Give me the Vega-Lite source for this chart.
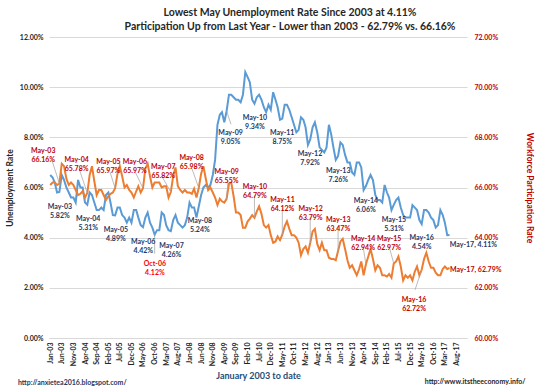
{
 "$schema": "https://vega.github.io/schema/vega-lite/v6.json",
 "width": 418,
 "height": 301,
 "autosize": {"type": "none"},
 "padding": {"left": 49, "top": 37, "right": 71, "bottom": 53},
 "background": "white",
 "title": {
  "text": ["Lowest May Unemployment Rate Since 2003 at 4.11%", "Participation Up from Last Year - Lower than 2003 - 62.79% vs. 66.16%"],
  "anchor": "middle", "frame": "group", "dx": 32, "offset": 1,
  "font": "Lato", "fontSize": 10.5, "fontWeight": "bold", "color": "#262626", "lineHeight": 14
 },
 "datasets": {
  "series": [
   {"d":"2003-01","u":6.5,"p":66.1},{"d":"2003-02","u":6.4,"p":66.2},{"d":"2003-03","u":6.2,"p":66.2},{"d":"2003-04","u":5.8,"p":66.1},{"d":"2003-05","u":5.82,"p":66.16},{"d":"2003-06","u":6.5,"p":66.95},{"d":"2003-07","u":6.3,"p":66.85},{"d":"2003-08","u":6.0,"p":66.35},{"d":"2003-09","u":5.8,"p":66.1},{"d":"2003-10","u":5.6,"p":66.2},{"d":"2003-11","u":5.6,"p":66.1},{"d":"2003-12","u":5.4,"p":65.9},
   {"d":"2004-01","u":6.3,"p":65.7},{"d":"2004-02","u":6.0,"p":65.75},{"d":"2004-03","u":6.0,"p":65.85},{"d":"2004-04","u":5.4,"p":65.6},{"d":"2004-05","u":5.31,"p":65.78},{"d":"2004-06","u":5.8,"p":66.5},{"d":"2004-07","u":5.7,"p":66.85},{"d":"2004-08","u":5.4,"p":66.25},{"d":"2004-09","u":5.1,"p":65.7},{"d":"2004-10","u":5.1,"p":65.9},{"d":"2004-11","u":5.2,"p":65.9},{"d":"2004-12","u":5.1,"p":65.7},
   {"d":"2005-01","u":5.7,"p":65.5},{"d":"2005-02","u":5.8,"p":65.65},{"d":"2005-03","u":5.4,"p":65.75},{"d":"2005-04","u":4.9,"p":65.8},{"d":"2005-05","u":4.89,"p":65.97},{"d":"2005-06","u":5.2,"p":66.55},{"d":"2005-07","u":5.2,"p":66.85},{"d":"2005-08","u":4.9,"p":66.45},{"d":"2005-09","u":4.8,"p":66.0},{"d":"2005-10","u":4.6,"p":66.1},{"d":"2005-11","u":4.8,"p":65.9},{"d":"2005-12","u":4.6,"p":65.8},
   {"d":"2006-01","u":5.1,"p":65.6},{"d":"2006-02","u":5.1,"p":65.85},{"d":"2006-03","u":4.8,"p":66.05},{"d":"2006-04","u":4.5,"p":65.8},{"d":"2006-05","u":4.42,"p":65.97},{"d":"2006-06","u":4.8,"p":66.75},{"d":"2006-07","u":5.0,"p":66.95},{"d":"2006-08","u":4.6,"p":66.45},{"d":"2006-09","u":4.4,"p":66.0},{"d":"2006-10","u":4.12,"p":66.2},{"d":"2006-11","u":4.3,"p":66.2},{"d":"2006-12","u":4.3,"p":66.2},
   {"d":"2007-01","u":5.0,"p":66.0},{"d":"2007-02","u":4.9,"p":66.05},{"d":"2007-03","u":4.5,"p":66.05},{"d":"2007-04","u":4.3,"p":65.6},{"d":"2007-05","u":4.26,"p":65.82},{"d":"2007-06","u":4.7,"p":66.45},{"d":"2007-07","u":4.9,"p":66.8},{"d":"2007-08","u":4.6,"p":66.05},{"d":"2007-09","u":4.5,"p":65.9},{"d":"2007-10","u":4.4,"p":65.8},{"d":"2007-11","u":4.5,"p":65.9},{"d":"2007-12","u":4.8,"p":65.8},
   {"d":"2008-01","u":5.4,"p":65.8},{"d":"2008-02","u":5.2,"p":65.75},{"d":"2008-03","u":5.2,"p":65.95},{"d":"2008-04","u":4.8,"p":65.6},{"d":"2008-05","u":5.24,"p":65.98},{"d":"2008-06","u":5.7,"p":66.55},{"d":"2008-07","u":6.0,"p":66.85},{"d":"2008-08","u":6.1,"p":66.35},{"d":"2008-09","u":6.0,"p":65.9},{"d":"2008-10","u":6.1,"p":66.0},{"d":"2008-11","u":6.5,"p":65.8},{"d":"2008-12","u":7.1,"p":65.6},
   {"d":"2009-01","u":8.5,"p":65.3},{"d":"2009-02","u":8.9,"p":65.55},{"d":"2009-03","u":9.0,"p":65.45},{"d":"2009-04","u":8.6,"p":65.4},{"d":"2009-05","u":9.05,"p":65.55},{"d":"2009-06","u":9.7,"p":66.15},{"d":"2009-07","u":9.7,"p":66.2},{"d":"2009-08","u":9.6,"p":65.65},{"d":"2009-09","u":9.5,"p":65.0},{"d":"2009-10","u":9.5,"p":65.0},{"d":"2009-11","u":9.4,"p":64.9},{"d":"2009-12","u":9.7,"p":64.4},
   {"d":"2010-01","u":10.6,"p":64.4},{"d":"2010-02","u":10.4,"p":64.65},{"d":"2010-03","u":10.2,"p":64.75},{"d":"2010-04","u":9.5,"p":64.9},{"d":"2010-05","u":9.34,"p":64.79},{"d":"2010-06","u":9.6,"p":65.05},{"d":"2010-07","u":9.7,"p":65.25},{"d":"2010-08","u":9.5,"p":64.95},{"d":"2010-09","u":9.2,"p":64.5},{"d":"2010-10","u":9.0,"p":64.4},{"d":"2010-11","u":9.3,"p":64.5},{"d":"2010-12","u":9.1,"p":64.1},
   {"d":"2011-01","u":9.8,"p":63.8},{"d":"2011-02","u":9.5,"p":63.85},{"d":"2011-03","u":9.2,"p":64.05},{"d":"2011-04","u":8.7,"p":63.9},{"d":"2011-05","u":8.75,"p":64.12},{"d":"2011-06","u":9.3,"p":64.45},{"d":"2011-07","u":9.3,"p":64.65},{"d":"2011-08","u":9.1,"p":64.35},{"d":"2011-09","u":8.8,"p":64.1},{"d":"2011-10","u":8.5,"p":64.1},{"d":"2011-11","u":8.2,"p":64.0},{"d":"2011-12","u":8.3,"p":63.8},
   {"d":"2012-01","u":8.8,"p":63.3},{"d":"2012-02","u":8.7,"p":63.55},{"d":"2012-03","u":8.4,"p":63.65},{"d":"2012-04","u":7.7,"p":63.4},{"d":"2012-05","u":7.92,"p":63.79},{"d":"2012-06","u":8.4,"p":64.25},{"d":"2012-07","u":8.6,"p":64.35},{"d":"2012-08","u":8.2,"p":63.75},{"d":"2012-09","u":7.6,"p":63.5},{"d":"2012-10","u":7.5,"p":63.8},{"d":"2012-11","u":7.4,"p":63.5},{"d":"2012-12","u":7.6,"p":63.5},
   {"d":"2013-01","u":8.5,"p":63.2},{"d":"2013-02","u":8.1,"p":63.15},{"d":"2013-03","u":7.6,"p":63.15},{"d":"2013-04","u":7.1,"p":63.1},{"d":"2013-05","u":7.26,"p":63.47},{"d":"2013-06","u":7.8,"p":63.85},{"d":"2013-07","u":7.7,"p":63.95},{"d":"2013-08","u":7.3,"p":63.55},{"d":"2013-09","u":7.0,"p":63.1},{"d":"2013-10","u":7.0,"p":62.8},{"d":"2013-11","u":6.6,"p":62.9},{"d":"2013-12","u":6.5,"p":62.7},
   {"d":"2014-01","u":7.0,"p":62.5},{"d":"2014-02","u":7.0,"p":62.75},{"d":"2014-03","u":6.8,"p":63.05},{"d":"2014-04","u":5.9,"p":62.5},{"d":"2014-05","u":6.06,"p":62.94},{"d":"2014-06","u":6.3,"p":63.25},{"d":"2014-07","u":6.5,"p":63.55},{"d":"2014-08","u":6.3,"p":63.15},{"d":"2014-09","u":5.7,"p":62.7},{"d":"2014-10","u":5.5,"p":62.9},{"d":"2014-11","u":5.5,"p":62.8},{"d":"2014-12","u":5.4,"p":62.5},
   {"d":"2015-01","u":6.1,"p":62.5},{"d":"2015-02","u":5.8,"p":62.45},{"d":"2015-03","u":5.6,"p":62.55},{"d":"2015-04","u":5.1,"p":62.4},{"d":"2015-05","u":5.31,"p":62.97},{"d":"2015-06","u":5.5,"p":63.05},{"d":"2015-07","u":5.6,"p":63.25},{"d":"2015-08","u":5.2,"p":62.85},{"d":"2015-09","u":4.9,"p":62.3},{"d":"2015-10","u":4.8,"p":62.5},{"d":"2015-11","u":4.8,"p":62.4},{"d":"2015-12","u":4.8,"p":62.5},
   {"d":"2016-01","u":5.3,"p":62.3},{"d":"2016-02","u":5.2,"p":62.65},{"d":"2016-03","u":5.1,"p":62.85},{"d":"2016-04","u":4.7,"p":62.5},{"d":"2016-05","u":4.54,"p":62.72},{"d":"2016-06","u":5.1,"p":63.15},{"d":"2016-07","u":5.1,"p":63.4},{"d":"2016-08","u":5.0,"p":63.05},{"d":"2016-09","u":4.8,"p":62.8},{"d":"2016-10","u":4.7,"p":62.8},{"d":"2016-11","u":4.4,"p":62.6},{"d":"2016-12","u":4.5,"p":62.5},
   {"d":"2017-01","u":5.1,"p":62.5},{"d":"2017-02","u":4.9,"p":62.75},{"d":"2017-03","u":4.6,"p":62.85},{"d":"2017-04","u":4.1,"p":62.75},{"d":"2017-05","u":4.11,"p":62.79}
  ],
  "blueLabels": [
   {"d":"2003-05-08","u":5.23,"t":"May-03\n5.82%","kind":"may"},
   {"d":"2004-05-13","u":4.73,"t":"May-04\n5.31%","kind":"may"},
   {"d":"2005-05-11","u":4.32,"t":"May-05\n4.89%","kind":"may"},
   {"d":"2006-05-04","u":3.83,"t":"May-06\n4.42%","kind":"may"},
   {"d":"2007-05-10","u":3.67,"t":"May-07\n4.26%","kind":"may"},
   {"d":"2008-05-16","u":4.66,"t":"May-08\n5.24%","kind":"may"},
   {"d":"2009-06-22","u":8.17,"t":"May-09\n9.05%","kind":"may"},
   {"d":"2010-05-07","u":8.77,"t":"May-10\n9.34%","kind":"may"},
   {"d":"2011-04-30","u":8.17,"t":"May-11\n8.75%","kind":"may"},
   {"d":"2012-04-28","u":7.34,"t":"May-12\n7.92%","kind":"may"},
   {"d":"2013-05-04","u":6.67,"t":"May-13\n7.26%","kind":"may"},
   {"d":"2014-05-01","u":5.47,"t":"May-14\n6.06%","kind":"may"},
   {"d":"2015-05-04","u":4.71,"t":"May-15\n5.31%","kind":"may"},
   {"d":"2016-05-01","u":3.98,"t":"May-16\n4.54%","kind":"may"},
   {"d":"2018-03-10","u":3.72,"t":"May-17, 4.11%","kind":"may"},
   {"d":"2006-10-04","u":2.94,"t":"Oct-06\n4.12%","kind":"low"}
  ],
  "blueLeaders": [
   {"d":"2009-06-27","u":8.52,"d2":"2009-05-01","u2":9.05},
   {"d":"2006-10-01","u":3.36,"d2":"2006-10-01","u2":4.12}
  ],
  "footer": [
   {"d":"2001-11-04","u":-1.8,"t":"http://anxietea2016.blogspot.com/","kind":"left"},
   {"d":"2016-06-10","u":-1.76,"t":"http://www.itstheeconomy.info/","kind":"right"}
  ],
  "redLabels": [
   {"d":"2002-10-02","p":67.44,"t":"May-03\n66.16%"},
   {"d":"2003-12-13","p":67.1,"t":"May-04\n65.78%"},
   {"d":"2005-02-01","p":67.01,"t":"May-05\n65.97%"},
   {"d":"2006-01-16","p":67.01,"t":"May-06\n65.97%"},
   {"d":"2007-01-22","p":66.82,"t":"May-07\n65.82%"},
   {"d":"2008-01-28","p":67.17,"t":"May-08\n65.98%"},
   {"d":"2009-05-01","p":66.63,"t":"May-09\n65.55%"},
   {"d":"2010-05-07","p":66.02,"t":"May-10\n64.79%"},
   {"d":"2011-05-04","p":65.52,"t":"May-11\n64.12%"},
   {"d":"2012-05-07","p":65.14,"t":"May-12\n63.79%"},
   {"d":"2013-05-04","p":64.69,"t":"May-13\n63.47%"},
   {"d":"2014-03-25","p":63.95,"t":"May-14\n62.94%"},
   {"d":"2015-03-01","p":63.95,"t":"May-15\n62.97%"},
   {"d":"2016-01-22","p":61.51,"t":"May-16\n62.72%"},
   {"d":"2018-04-10","p":62.72,"t":"May-17, 62.79%"}
  ],
  "redLeaders": [
   {"d":"2003-01-24","p":67.08,"d2":"2003-05-01","p2":66.16},
   {"d":"2004-01-13","p":66.76,"d2":"2004-05-01","p2":65.78},
   {"d":"2005-02-20","p":66.64,"d2":"2005-05-01","p2":65.97},
   {"d":"2006-01-16","p":66.64,"d2":"2006-05-01","p2":65.97},
   {"d":"2007-01-04","p":66.44,"d2":"2007-05-01","p2":65.82},
   {"d":"2008-01-28","p":66.79,"d2":"2008-05-01","p2":65.98},
   {"d":"2009-05-19","p":66.28,"d2":"2009-05-01","p2":65.55},
   {"d":"2010-05-01","p":65.68,"d2":"2010-05-01","p2":64.79},
   {"d":"2011-05-01","p":65.16,"d2":"2011-05-01","p2":64.12},
   {"d":"2012-05-01","p":64.8,"d2":"2012-05-01","p2":63.79},
   {"d":"2013-05-01","p":64.36,"d2":"2013-05-01","p2":63.47},
   {"d":"2014-03-25","p":63.65,"d2":"2014-05-01","p2":62.94},
   {"d":"2015-03-01","p":63.65,"d2":"2015-05-01","p2":62.97},
   {"d":"2016-02-04","p":61.92,"d2":"2016-05-01","p2":62.72}
  ]
 },
 "encoding": {
  "x": {
   "field": "d", "type": "temporal",
   "scale": {"type": "utc", "domain": [{"year":2002,"month":12,"date":16,"utc":true},{"year":2017,"month":12,"date":16,"utc":true}]},
   "axis": {
    "title": "January 2003 to date",
    "format": "%b-%y",
    "values": [
     {"year":2003,"month":1,"date":1,"utc":true},{"year":2003,"month":6,"date":1,"utc":true},{"year":2003,"month":11,"date":1,"utc":true},
     {"year":2004,"month":4,"date":1,"utc":true},{"year":2004,"month":9,"date":1,"utc":true},{"year":2005,"month":2,"date":1,"utc":true},
     {"year":2005,"month":7,"date":1,"utc":true},{"year":2005,"month":12,"date":1,"utc":true},{"year":2006,"month":5,"date":1,"utc":true},
     {"year":2006,"month":10,"date":1,"utc":true},{"year":2007,"month":3,"date":1,"utc":true},{"year":2007,"month":8,"date":1,"utc":true},
     {"year":2008,"month":1,"date":1,"utc":true},{"year":2008,"month":6,"date":1,"utc":true},{"year":2008,"month":11,"date":1,"utc":true},
     {"year":2009,"month":4,"date":1,"utc":true},{"year":2009,"month":9,"date":1,"utc":true},{"year":2010,"month":2,"date":1,"utc":true},
     {"year":2010,"month":7,"date":1,"utc":true},{"year":2010,"month":12,"date":1,"utc":true},{"year":2011,"month":5,"date":1,"utc":true},
     {"year":2011,"month":10,"date":1,"utc":true},{"year":2012,"month":3,"date":1,"utc":true},{"year":2012,"month":8,"date":1,"utc":true},
     {"year":2013,"month":1,"date":1,"utc":true},{"year":2013,"month":6,"date":1,"utc":true},{"year":2013,"month":11,"date":1,"utc":true},
     {"year":2014,"month":4,"date":1,"utc":true},{"year":2014,"month":9,"date":1,"utc":true},{"year":2015,"month":2,"date":1,"utc":true},
     {"year":2015,"month":7,"date":1,"utc":true},{"year":2015,"month":12,"date":1,"utc":true},{"year":2016,"month":5,"date":1,"utc":true},
     {"year":2016,"month":10,"date":1,"utc":true},{"year":2017,"month":3,"date":1,"utc":true},{"year":2017,"month":8,"date":1,"utc":true}
    ],
    "labelAngle": 270, "labelFont": "Lato", "labelFontSize": 7, "labelFontWeight": "bold", "labelColor": "#262626",
    "labelPadding": 4, "ticks": false, "grid": false, "domain": true, "domainColor": "#D9D9D9",
    "titleFont": "Lato", "titleFontSize": 9, "titleFontWeight": "bold", "titleColor": "#1F4E79", "titlePadding": 5,
    "labelOverlap": false
   }
  }
 },
 "layer": [
  {
   "encoding": {
    "y": {
     "field": "u", "type": "quantitative",
     "scale": {"domain": [0, 12], "nice": false, "zero": false},
     "axis": {
      "orient": "left", "values": [0,2,4,6,8,10,12], "labelExpr": "format(datum.value, '.2f') + '%'",
      "title": "Unemployment Rate", "grid": true, "gridColor": "#D9D9D9", "domain": false, "ticks": false,
      "labelFont": "Lato", "labelFontSize": 7, "labelFontWeight": "bold", "labelColor": "#262626", "labelPadding": 6,
      "titleFont": "Lato", "titleFontSize": 8.5, "titleFontWeight": "bold", "titleColor": "#262626", "titlePadding": 5
     }
    }
   },
   "layer": [
    {"data": {"name": "series"}, "mark": {"type": "line", "color": "#5B9BD5", "strokeWidth": 2}},
    {"data": {"name": "blueLeaders"}, "mark": {"type": "rule", "color": "#A6A6A6", "strokeWidth": 0.75},
     "encoding": {"x2": {"field": "d2"}, "y2": {"field": "u2"}}},
    {"data": {"name": "blueLabels"},
     "mark": {"type": "text", "font": "Lato", "fontSize": 7, "fontWeight": "bold", "lineBreak": "\n", "lineHeight": 9, "baseline": "middle", "align": "center"},
     "encoding": {"text": {"field": "t"},
      "color": {"field": "kind", "type": "nominal", "scale": {"domain": ["may","low","left","right"], "range": ["#1F3864","#FF0000","#1F3864","#262626"]}, "legend": null}}},
    {"data": {"name": "footer"},
     "mark": {"type": "text", "font": "Lato", "fontSize": 7, "fontWeight": "bold", "baseline": "middle", "align": "left"},
     "encoding": {"text": {"field": "t"},
      "color": {"field": "kind", "type": "nominal", "scale": {"domain": ["may","low","left","right"], "range": ["#1F3864","#FF0000","#1F3864","#262626"]}, "legend": null}}}
   ]
  },
  {
   "encoding": {
    "y": {
     "field": "p", "type": "quantitative",
     "scale": {"domain": [60, 72], "nice": false, "zero": false},
     "axis": {
      "orient": "right", "values": [60,62,64,66,68,70,72], "labelExpr": "format(datum.value, '.2f') + '%'",
      "title": "Workforce Participation Rate", "titleAngle": 90, "grid": false, "domain": false, "ticks": false,
      "labelFont": "Lato", "labelFontSize": 7, "labelFontWeight": "bold", "labelColor": "#C00000", "labelPadding": 7,
      "titleFont": "Lato", "titleFontSize": 8.5, "titleFontWeight": "bold", "titleColor": "#C00000", "titlePadding": 27
     }
    }
   },
   "layer": [
    {"data": {"name": "series"}, "mark": {"type": "line", "color": "#ED7D31", "strokeWidth": 2}},
    {"data": {"name": "redLeaders"}, "mark": {"type": "rule", "color": "#A6A6A6", "strokeWidth": 0.75},
     "encoding": {"x2": {"field": "d2"}, "y2": {"field": "p2"}}},
    {"data": {"name": "redLabels"},
     "mark": {"type": "text", "font": "Lato", "fontSize": 7, "fontWeight": "bold", "lineBreak": "\n", "lineHeight": 9, "baseline": "middle", "align": "center", "color": "#C00000"},
     "encoding": {"text": {"field": "t"}}}
   ]
  }
 ],
 "resolve": {"scale": {"y": "independent"}},
 "config": {"view": {"stroke": null}}
}
